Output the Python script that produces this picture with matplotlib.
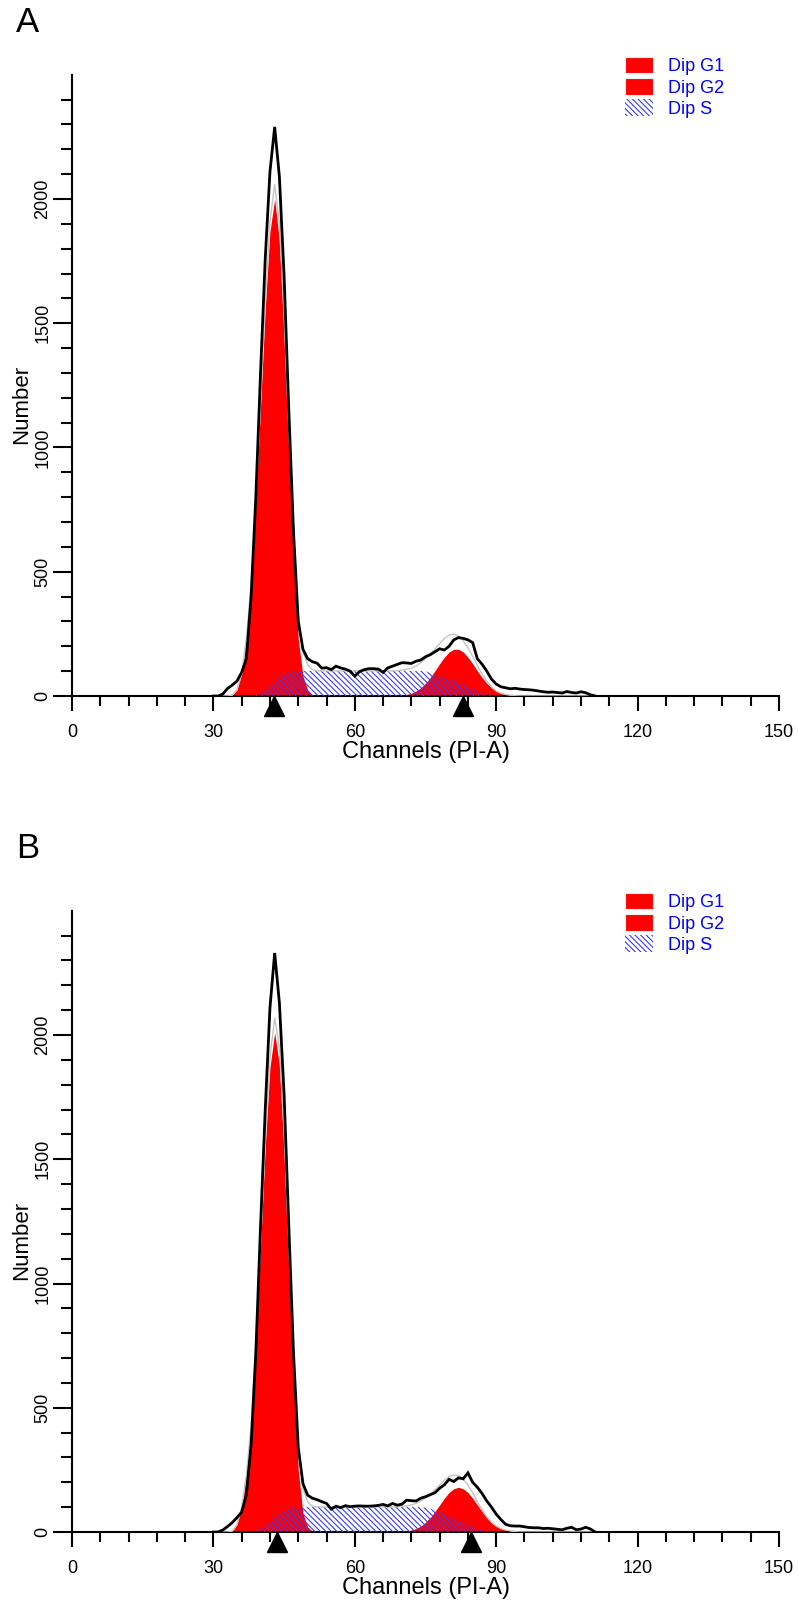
import numpy as np
import matplotlib
matplotlib.use("Agg")
import matplotlib.pyplot as plt
from matplotlib.patches import Patch
from matplotlib.ticker import FixedLocator
from matplotlib import transforms

plt.rcParams["font.family"] = ["Liberation Sans", "DejaVu Sans"]
plt.rcParams["hatch.linewidth"] = 0.8

# ── data (channel 30..111 for the measured histograms) ─────────────────────────
CH_START = 30

A_HIST = [0, 0, 8, 30, 44, 60, 95, 150, 400, 800,
          1300, 1760, 2110, 2290, 2090, 1690, 1150, 660, 300, 188,
          150, 138, 132, 112, 114, 106, 120, 113, 108, 100,
          80, 98, 106, 110, 110, 108, 95, 113, 120, 127,
          134, 133, 131, 140, 145, 158, 166, 178, 190, 185,
          200, 226, 235, 232, 226, 215, 150, 128, 100, 68,
          48, 37, 33, 29, 31, 28, 26, 25, 23, 20,
          17, 15, 16, 14, 12, 18, 14, 12, 17, 13,
          5, 0]

B_HIST = [0, 0, 8, 22, 38, 58, 80, 150, 350, 720,
          1230, 1700, 2110, 2330, 2130, 1760, 1230, 720, 340, 195,
          148, 136, 130, 122, 115, 92, 104, 98, 106, 102,
          104, 105, 104, 104, 105, 107, 111, 105, 115, 108,
          112, 128, 126, 125, 136, 142, 150, 158, 176, 190,
          212, 203, 218, 214, 238, 200, 180, 155, 125, 100,
          72, 50, 31, 25, 24, 24, 21, 18, 17, 17,
          14, 15, 13, 11, 9, 15, 19, 9, 12, 19,
          12, 0]

# fitted components: (first channel, values)
A_G1_START = 34
A_G1 = [3, 25, 90, 230, 450, 780, 1170, 1560, 1870, 2000,
        1830, 1450, 980, 560, 230, 80, 25, 5, 0]
A_G2_START = 68
A_G2 = [0, 1, 3, 6, 11, 20, 33, 51, 74, 101, 130, 156, 177, 188,
        188, 177, 156, 130, 101, 74, 51, 33, 20, 11, 6, 3, 1, 0]
A_S_START = 38
A_S = [0, 5, 12, 25, 40, 58, 74, 87, 96, 100,
       101, 101, 101, 101, 101, 101, 101, 101, 101, 101,
       101, 101, 101, 101, 101, 101, 101, 101, 101, 101,
       101, 101, 101, 101, 101, 101, 101,
       99, 94, 88, 81, 75, 68, 61, 53, 45, 37, 30, 22, 15, 9, 4, 0]

B_G1_START = 34
B_G1 = [3, 30, 100, 230, 430, 760, 1150, 1550, 1870, 2010,
        1880, 1530, 1060, 600, 250, 75, 20, 3, 0]
B_G2_START = 69
B_G2 = [0, 2, 4, 8, 14, 24, 39, 58, 82, 109, 136, 159, 174, 180,
        174, 159, 136, 109, 82, 58, 39, 24, 14, 8, 4, 2, 0]
B_S_START = 38
B_S = [0, 5, 12, 25, 40, 58, 74, 87, 96, 100,
       101, 101, 101, 101, 101, 101, 101, 101, 101, 101,
       101, 101, 101, 101, 101, 101, 101, 101, 101, 101,
       101, 101, 101, 101, 101, 101, 101,
       98, 94, 87, 80, 72, 64, 55, 46, 38, 30, 22, 14, 8, 3, 0]

A_PEAKS = [42.9, 82.9]
B_PEAKS = [43.4, 84.7]

LEGEND_LABELS = ["Dip G1", "Dip G2", "Dip S"]
X_MAJOR = [0, 30, 60, 90, 120, 150]
Y_MAJOR = [0, 500, 1000, 1500, 2000]

RED = "#ff0000"
BLUE = "#3a3aff"
HATCH = "\\" * 6

W, H = 799, 1601
AX_LEFT, AX_RIGHT = 72, 779
AX_H_PX = 621.25


def on_grid(start, vals, n):
    out = np.zeros(n)
    out[start - CH_START:start - CH_START + len(vals)] = vals
    return out


def draw_panel(fig, bottom_px, letter, letter_y, hist, g1, g2, s, peaks):
    ax = fig.add_axes([AX_LEFT / W, (H - bottom_px) / H,
                       (AX_RIGHT - AX_LEFT) / W, AX_H_PX / H])
    n = len(hist)
    ch = np.arange(CH_START, CH_START + n)
    g1 = on_grid(*g1, n)
    g2 = on_grid(*g2, n)
    s = on_grid(*s, n)

    ax.fill_between(ch, 0, g1, color=RED, lw=0, zorder=2)
    ax.fill_between(ch, 0, g2, color=RED, lw=0, zorder=2)
    ax.fill_between(ch, 0, s, facecolor="none", edgecolor=BLUE, hatch=HATCH,
                    lw=0, zorder=3)
    ax.plot(ch, g1 + g2 + s, color="#c4c4c4", lw=1.0, zorder=4)
    ax.plot(ch, hist, color="black", lw=2.0, zorder=5, solid_joinstyle="miter")

    # peak markers under the axis
    trans = transforms.offset_copy(ax.get_xaxis_transform(), fig=fig, y=-10, units="dots")
    ax.plot(peaks, [0] * len(peaks), ls="none", marker="^", ms=14.5,
            color="black", transform=trans, clip_on=False, zorder=6)

    ax.set_xlim(0, 150)
    ax.set_ylim(0, 2500)
    for side in ("top", "right"):
        ax.spines[side].set_visible(False)
    for side in ("left", "bottom"):
        ax.spines[side].set_linewidth(1.5)

    ax.xaxis.set_major_locator(FixedLocator(X_MAJOR))
    ax.xaxis.set_minor_locator(FixedLocator([v for v in range(0, 151, 6) if v % 30]))
    ax.yaxis.set_major_locator(FixedLocator(Y_MAJOR))
    ax.yaxis.set_minor_locator(FixedLocator([v for v in range(100, 2500, 100) if v % 500]))
    ax.tick_params(axis="x", which="major", length=11, width=1.5, pad=9, labelsize=13)
    ax.tick_params(axis="x", which="minor", length=7, width=1.5)
    ax.tick_params(axis="y", which="major", length=14, width=1.5, pad=1, labelsize=13)
    ax.tick_params(axis="y", which="minor", length=8, width=1.5)
    for lab in ax.get_yticklabels():
        lab.set_rotation(90)
        lab.set_va("center")

    ax.set_xlabel("Channels (PI-A)", fontsize=17)
    ax.xaxis.set_label_coords(0.5, -45 / AX_H_PX)
    ax.set_ylabel("Number", fontsize=16)
    ax.yaxis.set_label_coords(-40 / (AX_RIGHT - AX_LEFT), 0.47)

    handles = [Patch(facecolor=RED, edgecolor="#f0f0f0", lw=0.8),
               Patch(facecolor=RED, edgecolor="#f0f0f0", lw=0.8),
               Patch(facecolor="white", edgecolor=BLUE, hatch=HATCH, lw=0)]
    ax.legend(handles, LEGEND_LABELS, loc="upper left",
              bbox_to_anchor=((625 - AX_LEFT) / (AX_RIGHT - AX_LEFT), 1 + 18 / AX_H_PX),
              frameon=False, fontsize=13, labelcolor="blue", borderpad=0,
              borderaxespad=0, handlelength=1.55, handleheight=1.05,
              labelspacing=0.15, handletextpad=0.85)

    fig.text(28 / W, 1 - letter_y / H, letter, fontsize=25, ha="center", va="center")
    return ax


fig = plt.figure(figsize=(W / 100, H / 100), dpi=100)
draw_panel(fig, 696, "A", 23, A_HIST, (A_G1_START, A_G1), (A_G2_START, A_G2),
           (A_S_START, A_S), A_PEAKS)
draw_panel(fig, 1532, "B", 848, B_HIST, (B_G1_START, B_G1), (B_G2_START, B_G2),
           (B_S_START, B_S), B_PEAKS)
fig.savefig("out.png", dpi=100, facecolor="white")
